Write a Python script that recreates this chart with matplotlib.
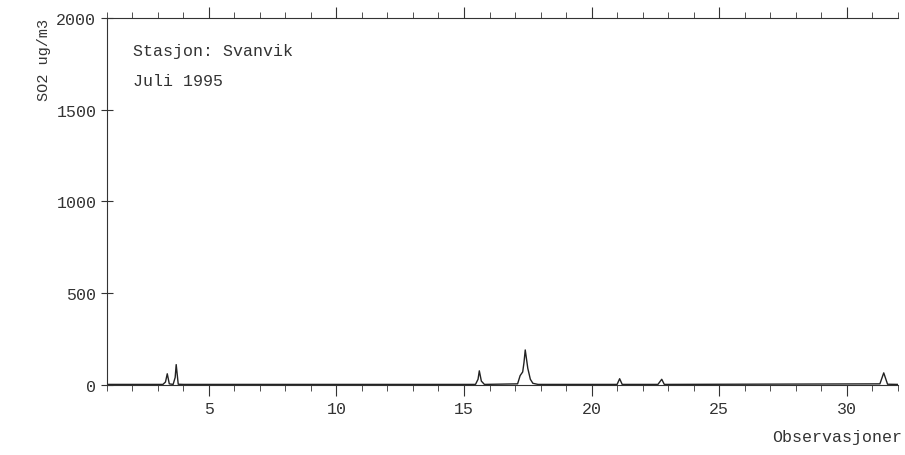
import matplotlib.pyplot as plt
from matplotlib.ticker import MultipleLocator

days = [1.0, 3.2, 3.3, 3.37, 3.45, 3.6, 3.68, 3.72, 3.8, 4.0, 15.45, 15.55, 15.6, 15.68,
        15.8, 17.1, 17.2, 17.3, 17.35, 17.4, 17.5, 17.6, 17.7, 17.9, 21.0, 21.1, 21.2,
        22.6, 22.75, 22.85, 31.3, 31.45, 31.6, 32.0]
so2 = [2, 2, 15, 60, 5, 2, 40, 110, 3, 2, 2, 30, 76, 20,
       2, 5, 50, 70, 120, 190, 90, 30, 8, 2, 2, 33, 2,
       2, 30, 2, 5, 65, 3, 2]

plt.rcParams['font.family'] = ['Liberation Mono', 'DejaVu Sans Mono']
fig = plt.figure(figsize=(9.05, 4.56), dpi=100)
ax = fig.add_axes([0.118, 0.154, 0.874, 0.804])
ax.plot(days, so2, color='#222222', linewidth=1)
ax.set_xlim(1, 32)
ax.set_ylim(0, 2000)
ax.set_xticks([5, 10, 15, 20, 25, 30])
ax.xaxis.set_minor_locator(MultipleLocator(1))
ax.set_yticks([0, 500, 1000, 1500, 2000])
ax.tick_params(axis='x', which='major', direction='out', length=8, top=True, labelsize=12, colors='#333333')
ax.tick_params(axis='x', which='minor', direction='out', length=4, top=True, colors='#333333')
ax.tick_params(axis='y', direction='inout', length=8, labelsize=12, colors='#333333')
ax.spines['right'].set_visible(False)
for s in ['left', 'bottom', 'top']:
    ax.spines[s].set_color('#333333')
ax.set_ylabel('SO2 ug/m3', fontsize=11, color='#333333', loc='top')
ax.text(1.005, -0.12, 'Observasjoner', transform=ax.transAxes, ha='right', va='top',
        fontsize=12, color='#333333')
ax.text(0.033, 0.9, 'Stasjon: Svanvik', transform=ax.transAxes, fontsize=12, color='#333333')
ax.text(0.033, 0.818, 'Juli 1995', transform=ax.transAxes, fontsize=12, color='#333333')
fig.savefig('out.png')
